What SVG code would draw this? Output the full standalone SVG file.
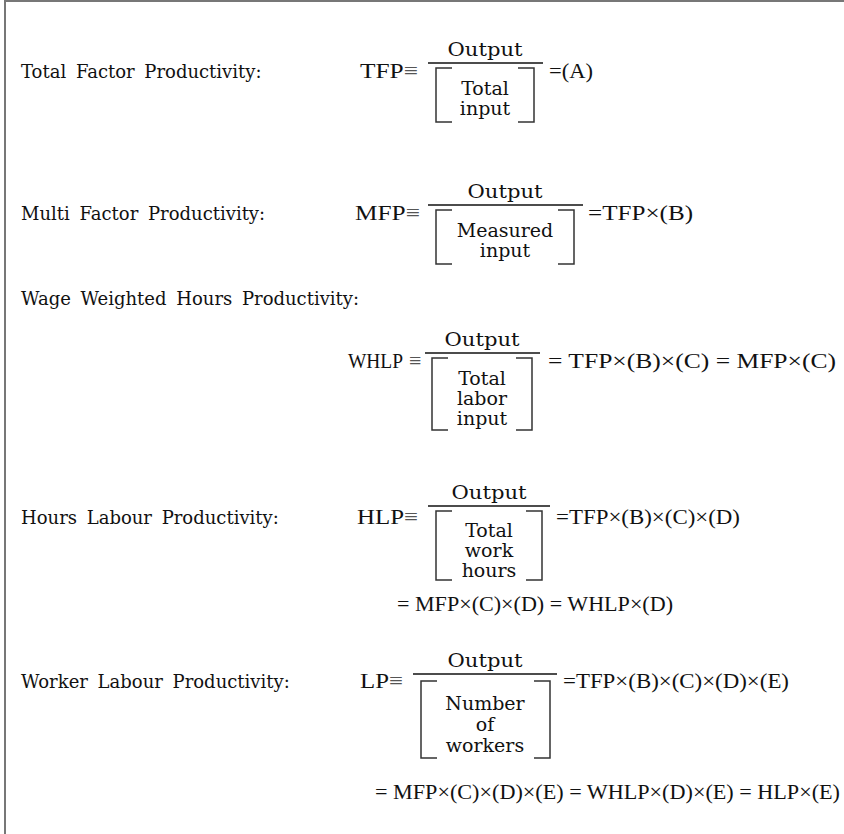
<svg xmlns="http://www.w3.org/2000/svg" width="844" height="834" viewBox="0 0 844 834">
<style>
.lbl{font-family:"DejaVu Serif","Liberation Serif",serif;font-size:18px;fill:#111;word-spacing:4px}
.box{font-family:"DejaVu Serif","Liberation Serif",serif;font-size:19px;fill:#111;text-anchor:middle}
.m{font-family:"Liberation Serif","Times New Roman",serif;font-size:22px;fill:#111}
.eq{fill:#555}
.fl{stroke:#111;stroke-width:1.3;fill:none}
.br{stroke:#333;stroke-width:1.5;fill:none}
.frame{stroke:#777;stroke-width:2;fill:none}
</style>
<path class="frame" d="M5,834 V1 H844"/>
<g id="tfp">
<text class="lbl" x="21" y="78">Total Factor Productivity:</text>
<text class="m" x="360" y="78" textLength="58" lengthAdjust="spacingAndGlyphs">TFP<tspan class="eq">≡</tspan></text>
<text class="box" x="485" y="56" textLength="75" lengthAdjust="spacingAndGlyphs">Output</text>
<line class="fl" x1="428" y1="63" x2="543" y2="63"/>
<path class="br" d="M452,68 H436 V122 H452 M518,68 H534 V122 H518"/>
<text class="box" x="485" y="95">Total</text>
<text class="box" x="485" y="115">input</text>
<text class="m" x="549" y="78" textLength="44" lengthAdjust="spacingAndGlyphs">=(A)</text>
</g>
<g id="mfp">
<text class="lbl" x="21" y="220">Multi Factor Productivity:</text>
<text class="m" x="355" y="220" textLength="65" lengthAdjust="spacingAndGlyphs">MFP<tspan class="eq">≡</tspan></text>
<text class="box" x="505" y="198" textLength="75" lengthAdjust="spacingAndGlyphs">Output</text>
<line class="fl" x1="428" y1="205" x2="583" y2="205"/>
<path class="br" d="M452,210 H436 V264 H452 M558,210 H574 V264 H558"/>
<text class="box" x="505" y="237">Measured</text>
<text class="box" x="505" y="257">input</text>
<text class="m" x="588" y="220" textLength="105" lengthAdjust="spacingAndGlyphs">=TFP×(B)</text>
</g>
<g id="whlp">
<text class="lbl" x="21" y="305">Wage Weighted Hours Productivity:</text>
<text class="m" x="348" y="368" textLength="55" lengthAdjust="spacingAndGlyphs">WHLP</text>
<text class="m eq" x="409" y="368">≡</text>
<text class="box" x="482" y="346" textLength="75" lengthAdjust="spacingAndGlyphs">Output</text>
<line class="fl" x1="425" y1="353" x2="540" y2="353"/>
<path class="br" d="M448,358 H432 V430 H448 M516,358 H532 V430 H516"/>
<text class="box" x="482" y="385">Total</text>
<text class="box" x="482" y="405">labor</text>
<text class="box" x="482" y="425">input</text>
<text class="m" x="548" y="368" textLength="288" lengthAdjust="spacingAndGlyphs">= TFP×(B)×(C) = MFP×(C)</text>
</g>
<g id="hlp">
<text class="lbl" x="21" y="524">Hours Labour Productivity:</text>
<text class="m" x="357" y="524" textLength="61" lengthAdjust="spacingAndGlyphs">HLP<tspan class="eq">≡</tspan></text>
<text class="box" x="489" y="499" textLength="75" lengthAdjust="spacingAndGlyphs">Output</text>
<line class="fl" x1="428" y1="506" x2="550" y2="506"/>
<path class="br" d="M452,511 H436 V580 H452 M526,511 H542 V580 H526"/>
<text class="box" x="489" y="537">Total</text>
<text class="box" x="489" y="557">work</text>
<text class="box" x="489" y="577">hours</text>
<text class="m" x="556" y="524" textLength="184" lengthAdjust="spacingAndGlyphs">=TFP×(B)×(C)×(D)</text>
<text class="m" x="397" y="611" textLength="276" lengthAdjust="spacingAndGlyphs">= MFP×(C)×(D) = WHLP×(D)</text>
</g>
<g id="lp">
<text class="lbl" x="21" y="688">Worker Labour Productivity:</text>
<text class="m" x="360" y="688" textLength="43" lengthAdjust="spacingAndGlyphs">LP<tspan class="eq">≡</tspan></text>
<text class="box" x="485" y="667" textLength="75" lengthAdjust="spacingAndGlyphs">Output</text>
<line class="fl" x1="413" y1="674" x2="557" y2="674"/>
<path class="br" d="M437,681 H421 V758 H437 M534,681 H550 V758 H534"/>
<text class="box" x="485" y="710">Number</text>
<text class="box" x="485" y="731">of</text>
<text class="box" x="485" y="752">workers</text>
<text class="m" x="563" y="688" textLength="226" lengthAdjust="spacingAndGlyphs">=TFP×(B)×(C)×(D)×(E)</text>
<text class="m" x="375" y="799" textLength="465" lengthAdjust="spacingAndGlyphs">= MFP×(C)×(D)×(E) = WHLP×(D)×(E) = HLP×(E)</text>
</g>
</svg>
